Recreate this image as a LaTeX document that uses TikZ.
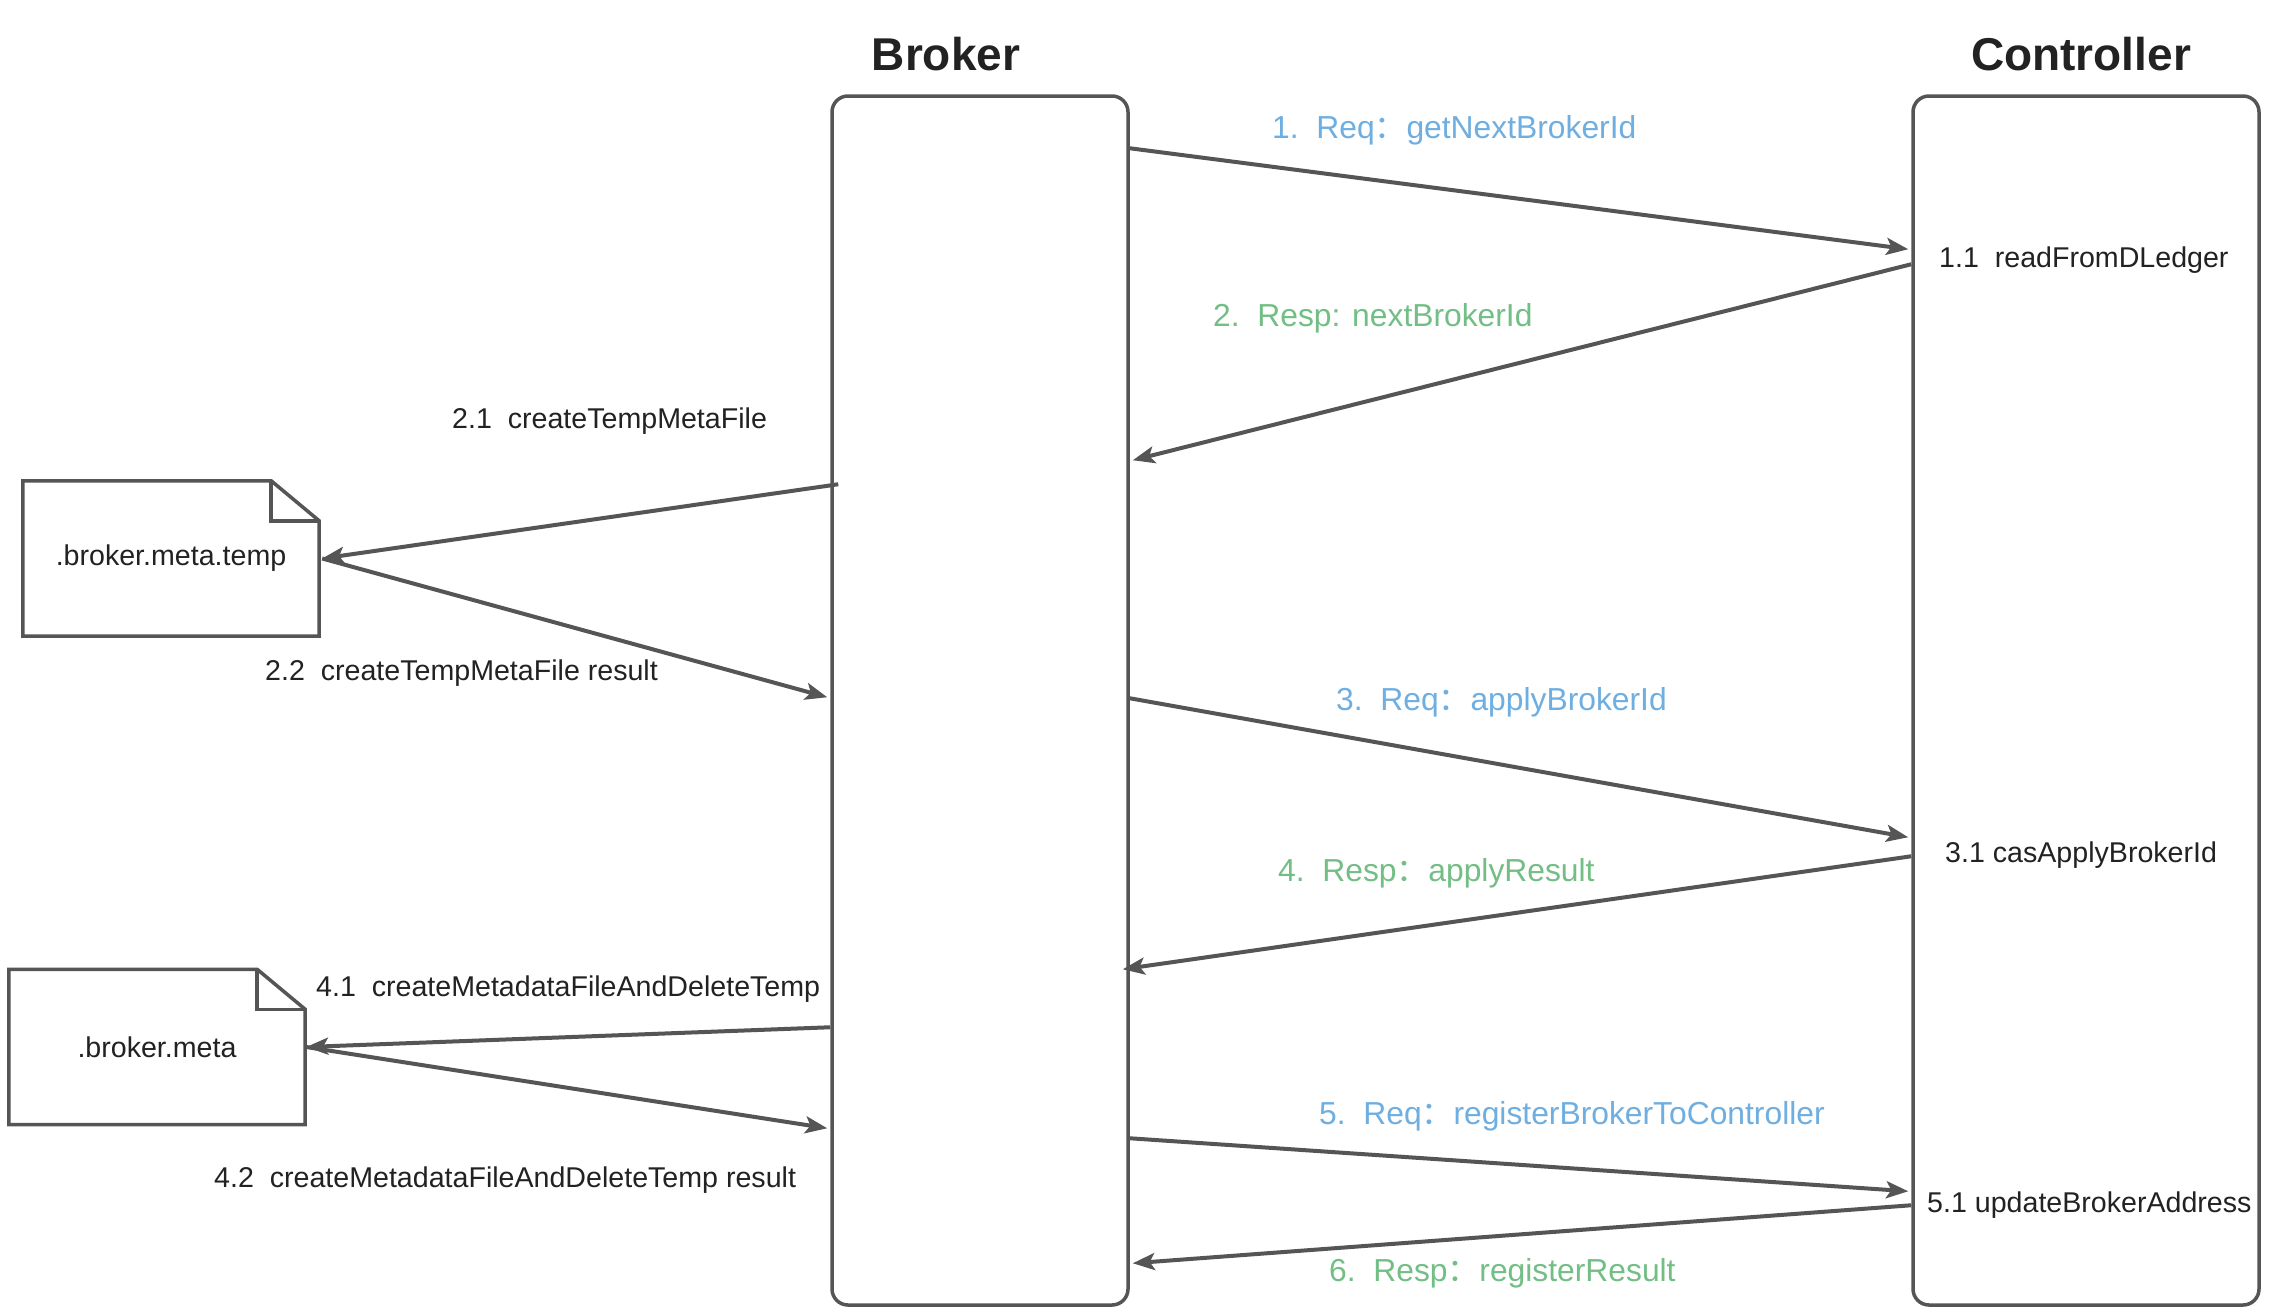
\documentclass[tikz,border=0pt]{standalone}
\usepackage{fontspec}
\setmainfont{Liberation Sans}
\newfontfamily\cjk{Noto Sans CJK SC}
\usetikzlibrary{arrows.meta}
\definecolor{ln}{HTML}{555555}
\definecolor{ink}{HTML}{222222}
\definecolor{req}{HTML}{6FAEE0}
\definecolor{resp}{HTML}{72BE85}
\newcommand{\fw}{{\cjk ：}}
\tikzset{
  x=1pt,y=-1pt,
  lane/.style={draw=ln,line width=3.5pt,rounded corners=16pt,inner sep=0pt},
  doc/.style={inner sep=0pt,minimum height=155pt,font=\fontsize{28.6}{32}\selectfont,text=ink},
  docline/.style={draw=ln,line width=3.5pt,line join=miter},
  msg/.style={draw=ln,line width=4pt,-{Stealth[length=22pt,width=17pt,inset=5pt]}},
  title/.style={font=\fontsize{46}{54}\selectfont\bfseries,text=ink,inner sep=0pt},
  lab/.style={font=\fontsize{28.6}{32}\selectfont,text=ink,inner sep=0pt,anchor=mid west,yshift=-7pt},
  reqlab/.style={font=\fontsize{31.8}{36}\selectfont,text=req,inner sep=0pt,anchor=mid west,yshift=-8pt},
  resplab/.style={font=\fontsize{31.8}{36}\selectfont,text=resp,inner sep=0pt,anchor=mid west,yshift=-8pt},
}
\begin{document}
\begin{tikzpicture}
\useasboundingbox (0,0) rectangle (2272,1312);
\fill[white] (0,0) rectangle (2272,1312);
% lanes
\node[lane,minimum width=296pt,minimum height=1209pt] (broker) at (980,700.5) {};
\node[lane,minimum width=346pt,minimum height=1209pt] (ctrl) at (2086,700.5) {};
\node[title] (tb) at (946,54) {Broker};
\node[title] (tc) at (2081,54) {Controller};
% documents
\node[doc,minimum width=296pt] (d1) at (171,558.5) {\raisebox{-3pt}{.broker.meta.temp}};
\draw[docline] (d1.north west) -- ([xshift=-48pt]d1.north east) -- ([yshift=-40pt]d1.north east) -- (d1.south east) -- (d1.south west) -- cycle;
\draw[docline] ([xshift=-48pt]d1.north east) -- ([xshift=-48pt,yshift=-40pt]d1.north east) -- ([yshift=-40pt]d1.north east);
\node[doc,minimum width=296pt] (d2) at (157,1047) {\raisebox{-1pt}{.broker.meta}};
\draw[docline] (d2.north west) -- ([xshift=-48pt]d2.north east) -- ([yshift=-40pt]d2.north east) -- (d2.south east) -- (d2.south west) -- cycle;
\draw[docline] ([xshift=-48pt]d2.north east) -- ([xshift=-48pt,yshift=-40pt]d2.north east) -- ([yshift=-40pt]d2.north east);
% messages
\draw[msg] ([yshift=-54pt]broker.north east) -- ([xshift=-3pt,yshift=-155pt]ctrl.north west);
\draw[msg] ([yshift=-170pt]ctrl.north west) -- ([xshift=3pt,yshift=-366pt]broker.north east);
\draw[msg] ([xshift=8pt,yshift=-390pt]broker.north west) -- ([xshift=3pt]d1.east);
\draw[msg] ([xshift=3pt]d1.east) -- ([xshift=-3pt,yshift=-603pt]broker.north west);
\draw[msg] ([yshift=-604pt]broker.north east) -- ([xshift=-3pt,yshift=-743pt]ctrl.north west);
\draw[msg] ([yshift=-762pt]ctrl.north west) -- ([xshift=-7pt,yshift=-875pt]broker.north east);
\draw[msg] ([yshift=-933pt]broker.north west) -- ([xshift=1pt]d2.east);
\draw[msg] ([xshift=1pt]d2.east) -- ([xshift=-3pt,yshift=-1034pt]broker.north west);
\draw[msg] ([yshift=-1044pt]broker.north east) -- ([xshift=-3pt,yshift=-1097pt]ctrl.north west);
\draw[msg] ([yshift=-1111pt]ctrl.north west) -- ([xshift=3pt,yshift=-1169pt]broker.north east);
% labels
\node[reqlab] (l1) at (1272,128) {1.\ \ Req\fw getNextBrokerId};
\node[resplab] (l2) at (1213,316) {2.\ \ Resp: nextBrokerId};
\node[lab] (l21) at (452,419) {2.1\ \ createTempMetaFile};
\node[lab] (l22) at (265,671) {2.2\ \ createTempMetaFile result};
\node[reqlab] (l3) at (1336,700) {3.\ \ Req\fw applyBrokerId};
\node[resplab] (l4) at (1278,871) {4.\ \ Resp\fw applyResult};
\node[lab] (l41) at (316,987) {4.1\ \ createMetadataFileAndDeleteTemp};
\node[lab] (l42) at (214,1178) {4.2\ \ createMetadataFileAndDeleteTemp result};
\node[reqlab] (l5) at (1319,1114) {5.\ \ Req\fw registerBrokerToController};
\node[resplab] (l6) at (1329,1271) {6.\ \ Resp\fw registerResult};
\node[lab] (l11) at (1939,258) {1.1\ \ readFromDLedger};
\node[lab] (l31) at (1945,853) {3.1 casApplyBrokerId};
\node[lab] (l51) at (1927,1203) {5.1 updateBrokerAddress};
\end{tikzpicture}
\end{document}
